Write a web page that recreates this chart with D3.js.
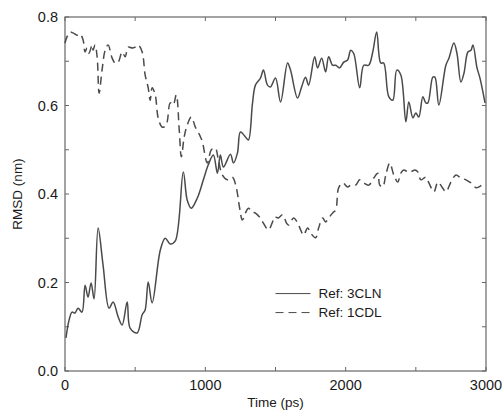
<!DOCTYPE html>
<meta charset="utf-8">
<script src="https://d3js.org/d3.v7.min.js"></script>
<style>
body { margin:0; background:#fff; }
svg { font-family: "Liberation Sans", Arial, sans-serif; }
.frame { fill:none; stroke:#666; stroke-width:1.2; }
.tick-mark { stroke:#666; stroke-width:1; }
.tick-label { font-size:14.5px; fill:#1a1a1a; }
.title { font-size:13.5px; fill:#1a1a1a; }
.line { fill:none; stroke:#4a4a4a; stroke-width:1.5; }
.line.dashed { stroke-dasharray:8,5; }
.legend text { font-size:13.5px; fill:#1a1a1a; }
</style>
<body></body>
<script>

// time (ps) and RMSD (nm)
var timeA = [7,29,50,71,93,121,143,164,186,207,236,271,314,343,379,407,443,464,514,550,571,593,621,679,714,750,786,843,871,900,943,986,1021,1057,1086,1107,1129,1179,1200,1229,1250,1286,1307,1336,1357,1393,1414,1443,1464,1500,1536,1586,1607,1657,1686,1714,1736,1779,1800,1829,1857,1879,1907,1929,1957,1986,2014,2036,2057,2100,2129,2164,2193,2221,2250,2271,2307,2336,2364,2393,2429,2450,2479,2500,2521,2550,2571,2586,2621,2636,2664,2714,2736,2771,2793,2821,2843,2871,2893,2907,2936,2957,2993];
var rmsd3CLN = [.075,.115,.133,.131,.142,.133,.194,.167,.199,.163,.323,.24,.142,.156,.122,.104,.156,.097,.086,.127,.138,.201,.154,.273,.3,.287,.294,.45,.386,.368,.391,.432,.466,.488,.447,.488,.461,.49,.47,.493,.54,.529,.522,.605,.646,.662,.68,.646,.642,.662,.608,.696,.68,.617,.642,.664,.646,.71,.685,.707,.676,.71,.691,.691,.685,.698,.703,.725,.718,.64,.691,.691,.721,.766,.696,.696,.62,.612,.68,.669,.563,.608,.572,.583,.574,.62,.606,.606,.664,.664,.601,.691,.707,.741,.718,.653,.673,.721,.725,.737,.685,.662,.606];

var timeB = [0,14,36,57,86,107,129,143,157,171,193,200,214,229,243,264,286,307,336,357,379,407,429,450,479,500,521,550,571,593,607,621,643,664,693,721,750,771,793,814,829,850,871,900,929,964,979,1014,1043,1071,1093,1121,1157,1193,1221,1243,1264,1286,1307,1336,1357,1386,1414,1450,1479,1493,1521,1550,1579,1593,1629,1657,1679,1700,1729,1750,1786,1807,1836,1857,1879,1907,1929,1950,1979,2014,2036,2071,2100,2129,2164,2200,2229,2243,2264,2286,2314,2343,2371,2393,2414,2443,2464,2493,2514,2536,2571,2593,2629,2657,2686,2714,2750,2786,2821,2857,2893,2929,2950,2986];
var rmsd1CDL = [.741,.755,.766,.764,.759,.762,.748,.721,.73,.718,.737,.725,.737,.71,.628,.68,.725,.737,.707,.696,.698,.721,.71,.732,.73,.732,.737,.721,.669,.64,.612,.64,.624,.572,.551,.556,.606,.601,.624,.545,.484,.53,.556,.574,.551,.53,.518,.47,.5,.504,.477,.443,.432,.438,.414,.371,.341,.357,.368,.359,.357,.348,.334,.319,.337,.348,.346,.353,.334,.33,.346,.335,.319,.307,.323,.312,.301,.323,.346,.337,.346,.357,.364,.414,.425,.416,.42,.42,.432,.425,.42,.436,.447,.42,.416,.443,.47,.443,.427,.447,.454,.45,.45,.454,.45,.432,.438,.425,.405,.427,.416,.405,.427,.443,.436,.432,.425,.414,.416,.425];

var xTickLabels = [0, 1000, 2000, 3000];
var yTickLabels = [0.0, 0.2, 0.4, 0.6, 0.8];
var xMinor = [0, 500, 1000, 1500, 2000, 2500, 3000];
var yMinor = [0, 0.1, 0.2, 0.3, 0.4, 0.5, 0.6, 0.7, 0.8];

var series = [
  {name: "Ref: 3CLN", t: timeA, v: rmsd3CLN, dashed: false},
  {name: "Ref: 1CDL", t: timeB, v: rmsd1CDL, dashed: true}
];

var margin = {top: 17, right: 17, bottom: 42, left: 65};
var width = 503 - margin.left - margin.right,
    height = 413 - margin.top - margin.bottom;

var svg = d3.select("body").append("svg")
  .attr("width", 503)
  .attr("height", 413)
  .append("g")
  .attr("transform", "translate(" + margin.left + "," + margin.top + ")");

var xScale = d3.scaleLinear().domain([0, 3000]).range([0, width]);
var yScale = d3.scaleLinear().domain([0, 0.8]).range([height, 0]);

// inward tick marks on all four sides
var tk = 4;
svg.selectAll(".xtb").data(xMinor).enter().append("line")
  .attr("class", "tick-mark")
  .attr("x1", d => xScale(d)).attr("x2", d => xScale(d))
  .attr("y1", height).attr("y2", height - tk);
svg.selectAll(".xtt").data(xMinor).enter().append("line")
  .attr("class", "tick-mark")
  .attr("x1", d => xScale(d)).attr("x2", d => xScale(d))
  .attr("y1", 0).attr("y2", tk);
svg.selectAll(".ytl").data(yMinor).enter().append("line")
  .attr("class", "tick-mark")
  .attr("y1", d => yScale(d)).attr("y2", d => yScale(d))
  .attr("x1", 0).attr("x2", tk);
svg.selectAll(".ytr").data(yMinor).enter().append("line")
  .attr("class", "tick-mark")
  .attr("y1", d => yScale(d)).attr("y2", d => yScale(d))
  .attr("x1", width).attr("x2", width - tk);

svg.append("rect").attr("class", "frame")
  .attr("width", width).attr("height", height);

svg.selectAll(".xl").data(xTickLabels).enter().append("text")
  .attr("class", "tick-label")
  .attr("x", d => xScale(d))
  .attr("y", height + 19)
  .attr("text-anchor", "middle")
  .text(d => d);

svg.selectAll(".yl").data(yTickLabels).enter().append("text")
  .attr("class", "tick-label")
  .attr("x", -7)
  .attr("y", d => yScale(d))
  .attr("dy", "0.36em")
  .attr("text-anchor", "end")
  .text(d => d3.format(".1f")(d));

svg.append("text").attr("class", "title")
  .attr("x", width / 2)
  .attr("y", height + 36)
  .attr("text-anchor", "middle")
  .text("Time (ps)");

svg.append("text").attr("class", "title")
  .attr("transform", "translate(" + (-43) + "," + (height / 2) + ") rotate(-90)")
  .attr("text-anchor", "middle")
  .text("RMSD (nm)");

var line = d3.line()
  .x(d => xScale(d[0]))
  .y(d => yScale(d[1]))
  .curve(d3.curveCatmullRom);

series.forEach(function(s) {
  svg.append("path")
    .datum(d3.zip(s.t, s.v))
    .attr("class", s.dashed ? "line dashed" : "line")
    .attr("d", line);
});

var legend = svg.append("g").attr("class", "legend")
  .attr("transform", "translate(" + xScale(1500) + "," + yScale(0.175) + ")");

series.forEach(function(s, i) {
  legend.append("line")
    .attr("class", s.dashed ? "line dashed" : "line")
    .attr("x1", 0).attr("x2", 35)
    .attr("y1", i * 19).attr("y2", i * 19)
    .style("stroke-width", 1);
  legend.append("text")
    .attr("x", 43).attr("y", i * 19)
    .attr("dy", "0.36em")
    .text(s.name);
});

</script>
